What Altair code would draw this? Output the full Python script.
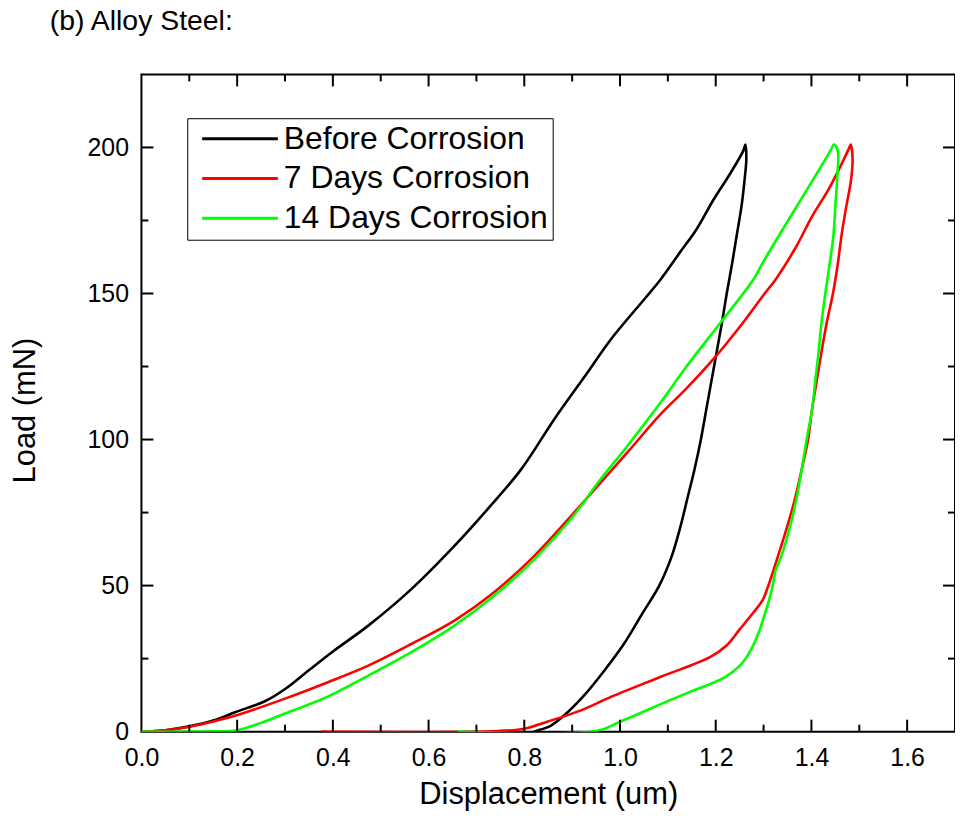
import altair as alt
import pandas as pd

# ---- data ----
series_names = ["Before Corrosion", "7 Days Corrosion", "14 Days Corrosion"]
series_colors = ["#000000", "#ff0000", "#00ff00"]

before_x = [0, 0.05, 0.10, 0.15, 0.197, 0.259, 0.301, 0.349, 0.398, 0.474, 0.564, 0.654,
            0.723, 0.793, 0.862, 0.931, 0.980, 1.049, 1.084, 1.125, 1.160, 1.195, 1.230,
            1.258, 1.262,
            1.264, 1.261, 1.254, 1.244, 1.234, 1.223, 1.213, 1.202, 1.191, 1.180, 1.169,
            1.156, 1.141, 1.126, 1.108, 1.082, 1.045, 1.008, 0.963, 0.925, 0.883, 0.855,
            0.834, 0.82]
before_y = [0, 0.5, 1.8, 3.8, 6.7, 10.5, 14.7, 20.9, 27.2, 36.3, 48.8, 63.6,
            76.1, 89.7, 106.8, 122.7, 134.1, 147.7, 154.6, 164, 172, 182, 191,
            199, 201,
            196, 190, 180, 170, 160, 150, 140, 130, 120, 110, 100,
            90, 80, 70, 60, 50, 40, 30, 20, 12.4, 5.5, 2.0,
            0.7, 0]

d7_x = [0, 0.05, 0.10, 0.15, 0.197, 0.30, 0.391, 0.474, 0.564, 0.654, 0.737, 0.821,
        0.904, 0.959, 1.015, 1.084, 1.139, 1.195, 1.257, 1.30, 1.326, 1.368, 1.40,
        1.437, 1.465, 1.478, 1.482,
        1.486, 1.482, 1.473, 1.463, 1.455, 1.445, 1.432, 1.421, 1.411, 1.401, 1.393,
        1.380, 1.366, 1.349, 1.330, 1.310, 1.298, 1.275, 1.250, 1.222, 1.188, 1.084,
        0.980, 0.917, 0.848, 0.80, 0.744, 0.376]
d7_y = [0, 0.5, 1.7, 3.5, 5.5, 11.3, 17.0, 22.6, 30.0, 38.0, 47.7, 60.2,
        75, 85.2, 95.5, 108.5, 117.5, 127.5, 140, 149.5, 155, 166, 176,
        186, 195, 199.5, 201,
        196, 188, 180, 170, 160, 150, 140, 130, 120, 110, 100,
        90, 80, 70, 60, 50, 45, 40, 35, 29.4, 25.5, 18.7,
        11.8, 7.2, 3.4, 1.0, 0.2, 0]

d14_x = [0, 0.10, 0.15, 0.197, 0.25, 0.30, 0.35, 0.397, 0.474, 0.564, 0.654, 0.737,
         0.821, 0.897, 0.959, 1.015, 1.084, 1.139, 1.209, 1.278, 1.30, 1.368, 1.424,
         1.440, 1.447,
         1.455, 1.454, 1.450, 1.446, 1.438, 1.429, 1.421, 1.415, 1.408, 1.401, 1.390,
         1.380, 1.369, 1.355, 1.337, 1.326, 1.319, 1.312, 1.302, 1.290, 1.271, 1.250,
         1.216, 1.160, 1.112, 1.0, 0.952, 0.661]
d14_y = [0, 0, 0.1, 0.4, 3.0, 6.2, 9.3, 12.6, 19.2, 27.2, 36.3, 46.5,
         59, 72.7, 86.3, 97.7, 112.5, 125, 139.8, 154.6, 161, 179.5, 194.5,
         199, 201,
         199, 190, 180, 170, 160, 150, 140, 130, 120, 110, 100,
         90, 80, 70, 60, 55.6, 50, 45.4, 40, 34, 27.2, 22.5,
         18.3, 14.5, 11.3, 3.4, 0.3, 0]

x_major = [0.2, 0.4, 0.6, 0.8, 1.0, 1.2, 1.4, 1.6]
x_minor = [0.1, 0.3, 0.5, 0.7, 0.9, 1.1, 1.3, 1.5]
y_major = [50, 100, 150, 200]
y_minor = [25, 75, 125, 175]
x_labels = [0, 0.2, 0.4, 0.6, 0.8, 1.0, 1.2, 1.4, 1.6]
y_labels = [0, 50, 100, 150, 200]

# ---- build table ----
rows = []
for name, xs, ys in zip(series_names, [before_x, d7_x, d14_x], [before_y, d7_y, d14_y]):
    for i, (xv, yv) in enumerate(zip(xs, ys)):
        rows.append({"series": name, "i": i, "x": xv, "y": yv})
df = pd.DataFrame(rows)

W, H = 817, 660
FONT = "Liberation Sans"
xscale = alt.Scale(domain=[0, 1.7], nice=False, zero=False)
yscale = alt.Scale(domain=[0, 225], nice=False, zero=False)

xaxis = alt.Axis(values=x_labels, format=".1f", title="Displacement (um)",
                 ticks=False, domain=False, grid=False, labelFlush=False,
                 labelOverlap=False, labelPadding=14, titlePadding=9,
                 labelFontSize=25, titleFontSize=31, labelFont=FONT,
                 titleFont=FONT, titleFontWeight="normal",
                 labelColor="black", titleColor="black")
yaxis = alt.Axis(values=y_labels, format="d", title="Load (mN)",
                 ticks=False, domain=False, grid=False, labelFlush=False,
                 labelOverlap=False, labelPadding=13, titlePadding=46, titleY=337,
                 labelFontSize=25, titleFontSize=31, labelFont=FONT,
                 titleFont=FONT, titleFontWeight="normal",
                 labelColor="black", titleColor="black")

color = alt.Color(
    "series:N",
    scale=alt.Scale(domain=series_names, range=series_colors),
    legend=alt.Legend(
        title=None, orient="none", legendX=46, legendY=44,
        symbolType="stroke", symbolSize=5776, symbolStrokeWidth=3,
        clipHeight=31, rowPadding=7, padding=5,
        symbolOffset=8.5, labelOffset=4.5, labelLimit=500,
        labelExpr="datum.label + ' '",
        labelFontSize=32, labelFont=FONT, labelColor="black",
        strokeColor="black", fillColor="white",
    ),
)

base = alt.Chart(df)
line_layers = []
for name in series_names:
    line_layers.append(
        base.transform_filter(alt.datum.series == name)
        .mark_line(strokeWidth=2.6, clip=True, interpolate="catmull-rom")
        .encode(
            x=alt.X("x:Q", scale=xscale, axis=xaxis),
            y=alt.Y("y:Q", scale=yscale, axis=yaxis),
            color=color,
            order=alt.Order("i:Q"),
        )
    )


def xticks(vals, length, top):
    d = pd.DataFrame({"x": vals})
    y0 = 0 if top else H
    y1 = length if top else H - length
    return alt.Chart(d).mark_rule(color="black", strokeWidth=2).encode(
        x=alt.X("x:Q", scale=xscale, axis=xaxis),
        y=alt.value(y0), y2=alt.value(y1))


def yticks(vals, length, right):
    d = pd.DataFrame({"y": vals})
    x0 = W if right else 0
    x1 = W - length if right else length
    return alt.Chart(d).mark_rule(color="black", strokeWidth=2).encode(
        y=alt.Y("y:Q", scale=yscale, axis=yaxis),
        x=alt.value(x0), x2=alt.value(x1))


tick_layers = [
    xticks(x_major, 12, False), xticks(x_minor, 7, False),
    xticks(x_major, 12, True), xticks(x_minor, 7, True),
    yticks(y_major, 12, False), yticks(y_minor, 7, False),
    yticks(y_major, 12, True), yticks(y_minor, 7, True),
]

chart = alt.layer(*line_layers, *tick_layers).properties(
    width=W, height=H,
    title=alt.TitleParams("(b) Alloy Steel:", anchor="start", frame="group",
                          dx=-92, offset=38, fontSize=28.5, font=FONT,
                          fontWeight="normal", color="black"),
    padding={"left": 134, "top": 65, "right": 0, "bottom": 80},
    autosize=alt.AutoSizeParams(type="none"),
).configure(background="white").configure_view(stroke="black", strokeWidth=2)

chart.save("out.html", embed_options={"renderer": "svg", "actions": False})
